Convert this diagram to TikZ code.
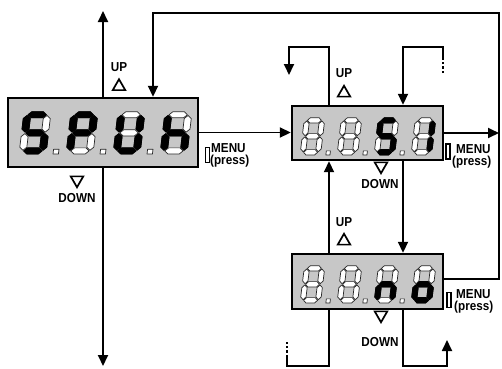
\documentclass[tikz,border=0pt]{standalone}
\usepackage{fontspec}
\setmainfont{Liberation Sans}
\newfontfamily\labfont{Liberation Sans}[FakeStretch=0.9]
\usetikzlibrary{arrows.meta,shapes.geometric}

\expandafter\def\csname sgpa\endcsname{(0.8,8.35)--(1.45,9)--(3.55,9)--(4.2,8.35)--(3.55,7.7)--(1.45,7.7)--cycle}
\expandafter\def\csname sgpg\endcsname{(0.8,4.5)--(1.45,5.15)--(3.55,5.15)--(4.2,4.5)--(3.55,3.85)--(1.45,3.85)--cycle}
\expandafter\def\csname sgpd\endcsname{(0.8,0.65)--(1.45,1.3)--(3.55,1.3)--(4.2,0.65)--(3.55,0)--(1.45,0)--cycle}
\expandafter\def\csname sgpf\endcsname{(0.65,4.65)--(1.3,5.3)--(1.3,7.55)--(0.65,8.2)--(0,7.55)--(0,5.3)--cycle}
\expandafter\def\csname sgpe\endcsname{(0.65,0.8)--(1.3,1.45)--(1.3,3.7)--(0.65,4.35)--(0,3.7)--(0,1.45)--cycle}
\expandafter\def\csname sgpb\endcsname{(4.35,4.65)--(5,5.3)--(5,7.55)--(4.35,8.2)--(3.7,7.55)--(3.7,5.3)--cycle}
\expandafter\def\csname sgpc\endcsname{(4.35,0.8)--(5,1.45)--(5,3.7)--(4.35,4.35)--(3.7,3.7)--(3.7,1.45)--cycle}
\expandafter\def\csname sgpp\endcsname{(6.3,0)--(7.3,0)--(7.3,1)--(6.3,1)--cycle}
\expandafter\def\csname sgpz\endcsname{(0,0)}

% #1 x, #2 y (bottom-left), #3 sx, #4 sy, #5 lit segments, #6 dot (p) or none (z)
\newcommand\sevdig[6]{%
  \begin{scope}[shift={(#1,#2)},x={(#3pt,0pt)},y={({0.12*#4pt},#4pt)}]
    \foreach \s in {a,b,c,d,e,f,g}{\path[segoff] \csname sgp\s\endcsname;}
    \foreach \s in {#5}{\path[segon] \csname sgp\s\endcsname;}
    \path[segoff] \csname sgp#6\endcsname;
  \end{scope}}

\tikzset{
  segoff/.style={fill=white,draw=black!85,line width=0.7pt,line join=round},
  segon/.style={fill=black,draw=black,line width=0.8pt,line join=round},
  dispbox/.style={draw=black,line width=2.4pt,fill=black!22,inner sep=0pt},
  lab/.style={font=\labfont\fontsize{13}{15}\selectfont\bfseries,inner sep=0pt},
  conn/.style={line width=1.8pt},
  arr/.style={line width=1.8pt,-{Triangle[length=11pt,width=10pt]}},
  dashline/.style={line width=1.8pt,dash pattern=on 2.5pt off 2pt},
  tri/.style={draw=black,line width=1.7pt,regular polygon,regular polygon sides=3,minimum size=14.5pt,inner sep=0pt},
  btn/.style={draw=black,line width=1.6pt,fill=white,minimum width=4pt,minimum height=15pt,inner sep=0pt}
}

\begin{document}
\begin{tikzpicture}[x=1pt,y=-1pt]
\useasboundingbox (0,0) rectangle (502,368);

% display boxes
\node[dispbox,minimum width=190pt,minimum height=69pt] (b1) at (103,132.5) {};
\node[dispbox,minimum width=151pt,minimum height=54pt] (b2) at (367.5,133) {};
\node[dispbox,minimum width=151pt,minimum height=55pt] (b3) at (367.5,281.5) {};

% digits box 1: S P U n
\sevdig{19}{154}{5.4}{4.7}{a,f,g,c,d}{p}
\sevdig{66}{154}{5.4}{4.7}{a,b,f,g,e}{p}
\sevdig{113}{154}{5.4}{4.7}{b,c,d,e,f}{p}
\sevdig{160}{154}{5.4}{4.7}{c,e,f,g}{z}
% digits box 2
\sevdig{300}{155}{4.1}{4.15}{z}{p}
\sevdig{337}{155}{4.1}{4.15}{z}{p}
\sevdig{374}{155}{4.1}{4.15}{a,f,g,c,d}{p}
\sevdig{411}{155}{4.1}{4.15}{b,c}{z}
% digits box 3
\sevdig{300}{303}{4.1}{4.15}{z}{p}
\sevdig{337}{303}{4.1}{4.15}{z}{p}
\sevdig{374}{303}{4.1}{4.15}{c,e,g}{p}
\sevdig{411}{303}{4.1}{4.15}{c,d,e,g}{z}

% labels
\node[lab] (up1) at (119,67.5) {UP};
\node[tri] (tu1) at (119,86.5) {};
\node[tri,shape border rotate=180] (td1) at (77,180) {};
\node[lab] (dn1) at (77,198) {DOWN};

\node[lab] (up2) at (344,73) {UP};
\node[tri] (tu2) at (344,93) {};
\node[tri,shape border rotate=180] (td2) at (381,166) {};
\node[lab] (dn2) at (380,184) {DOWN};

\node[lab] (up3) at (344,222) {UP};
\node[tri] (tu3) at (344,241) {};
\node[tri,shape border rotate=180] (td3) at (381,315) {};
\node[lab] (dn3) at (380,342) {DOWN};

% menu buttons
\node[btn] (m1) at (207.5,155) {};
\node[lab,anchor=west] (mt1) at (211,148.5) {MENU};
\node[lab,anchor=west] (mp1) at (210,161.5) {(press)};
\node[btn] (m2) at (448,151.5) {};
\node[lab,anchor=west] (mt2) at (456,149) {MENU};
\node[lab,anchor=west] (mp2) at (452,162.5) {(press)};
\node[btn] (m3) at (449,300) {};
\node[lab,anchor=west] (mt3) at (456,294) {MENU};
\node[lab,anchor=west] (mp3) at (454,307.5) {(press)};

% coordinates
\coordinate (t1) at (103,11);
\coordinate (d1) at (103,366);
\coordinate (r1) at (499,279);
\coordinate (r2) at (499,13);
\coordinate (r3) at (153,13);
\coordinate (p1) at (329,47);
\coordinate (p2) at (289,47);
\coordinate (p3) at (289,75);
\coordinate (q1) at (443,73);
\coordinate (q0) at (443,57);
\coordinate (q2) at (443,47);
\coordinate (q3) at (403,47);
\coordinate (s1) at (329,366);
\coordinate (s2) at (287,366);
\coordinate (s0) at (287,357);
\coordinate (s3) at (287,342);
\coordinate (u1) at (403,366);
\coordinate (u2) at (447,366);
\coordinate (u3) at (447,340);

% connectors
\draw[arr] (b1.north) -- (t1);
\draw[arr] (b1.south) -- (d1);
\draw[arr] (b3.east |- r1) -- (r1) -- (r2) -- (r3) -- (r3 |- b1.north);
\draw[arr] (b1.east) -- (b1.east -| b2.west);
\draw[arr] (b2.east) -- (b2.east -| r1);
\draw[arr] (b2.north -| p1) -- (p1) -- (p2) -- (p3);
\draw[dashline] (q1) -- (q0);
\draw[arr] (q0) -- (q2) -- (q3) -- (q3 |- b2.north);
\draw[arr] (b3.north -| p1) -- (b2.south -| p1);
\draw[arr] (b2.south -| q3) -- (b3.north -| q3);
\draw[conn] (b3.south -| s1) -- (s1) -- (s2) -- (s0);
\draw[dashline] (s0) -- (s3);
\draw[arr] (b3.south -| u1) -- (u1) -- (u2) -- (u3);
\end{tikzpicture}
\end{document}
